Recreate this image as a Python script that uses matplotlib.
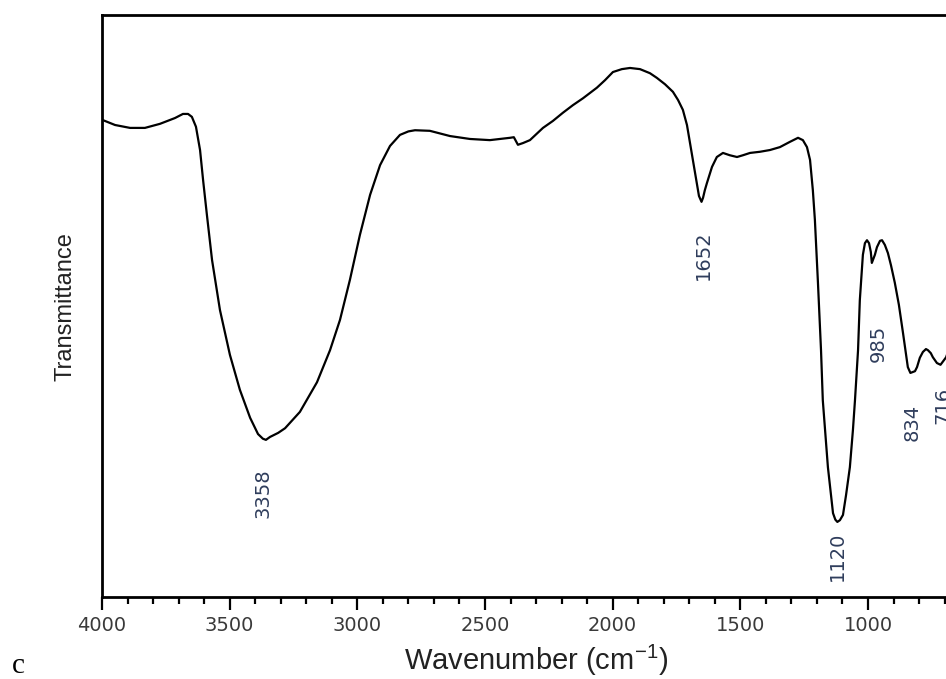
import numpy as np
import matplotlib
matplotlib.use('Agg')
from matplotlib import pyplot as plt
from matplotlib.ticker import MultipleLocator

# FTIR spectrum (wavenumber in cm-1, transmittance in arbitrary units)
wavenumber = [4000, 3949, 3890, 3832, 3773, 3714, 3683, 3663, 3648, 3632, 3616, 3604,
              3589, 3569, 3538, 3499, 3460, 3420, 3389, 3370, 3358, 3342, 3310, 3283, 3225, 3158,
              3107, 3068, 3029, 2990, 2950, 2911, 2872, 2833, 2800, 2774, 2716, 2637, 2559,
              2481, 2402, 2387, 2371, 2351, 2324, 2273, 2234, 2195, 2156, 2116, 2062,
              2030, 1999, 1964, 1932, 1893, 1854, 1827, 1795, 1764, 1744, 1725, 1709,
              1697, 1682, 1670, 1662, 1652, 1646, 1639, 1631, 1611, 1592, 1568, 1541,
              1513, 1490, 1462, 1423, 1384, 1345, 1306, 1274, 1255, 1239, 1227, 1216,
              1208, 1196, 1184, 1177, 1165, 1157, 1145, 1137, 1128, 1120, 1110, 1098, 1086,
              1071, 1059, 1051, 1039, 1032, 1020, 1012, 1004, 996, 989, 985, 973,
              965, 953, 945, 934, 922, 910, 895, 879, 863, 851, 844, 834,
              816, 808, 797, 785, 773, 765, 754, 746, 730, 716, 694, 680]
transmittance = [82.0, 81.1, 80.6, 80.6, 81.3, 82.3, 83.0, 83.0, 82.5, 80.8, 76.8, 71.6,
                 65.6, 57.9, 49.3, 41.6, 35.6, 30.8, 28.0, 27.2, 27.0, 27.5, 28.2, 29.0, 31.8, 36.9,
                 42.4, 47.6, 54.5, 62.2, 69.1, 74.2, 77.5, 79.4, 80.0, 80.2, 80.1, 79.2, 78.7,
                 78.5, 78.9, 79.0, 77.7, 78.0, 78.5, 80.6, 81.8, 83.2, 84.5, 85.7, 87.5,
                 88.8, 90.2, 90.7, 90.9, 90.7, 90.0, 89.2, 88.1, 86.8, 85.4, 83.7, 81.1,
                 78.0, 74.2, 71.1, 68.9, 67.9, 68.6, 69.9, 71.1, 73.9, 75.6, 76.3, 75.9,
                 75.6, 75.9, 76.3, 76.5, 76.8, 77.3, 78.2, 78.9, 78.5, 77.3, 75.1, 69.9,
                 64.8, 54.0, 42.4, 33.8, 27.0, 22.3, 17.5, 14.4, 13.3, 12.9, 13.2, 14.1, 17.5,
                 22.3, 28.7, 33.8, 42.4, 51.0, 58.8, 60.8, 61.3, 60.8, 59.3, 57.4, 58.8,
                 60.1, 61.2, 61.3, 60.5, 59.1, 57.0, 54.0, 50.2, 45.4, 41.6, 39.5, 38.5,
                 38.8, 39.5, 41.1, 42.1, 42.6, 42.4, 41.9, 41.2, 40.2, 39.9, 41.2, 43.0]

# peak labels: text, x position, y position (label centre)
peak_labels = ['3358', '1652', '1120', '985', '834', '716']
peak_x = [3370, 1646, 1118, 961, 828, 707]
peak_y = [17.9, 58.8, 7.0, 43.6, 30.0, 33.0]

W, H = 946, 679
fig = plt.figure(figsize=(W / 100, H / 100), dpi=100)
ax = fig.add_axes([102 / W, 82 / H, (W - 102) / W, 582 / H])

ax.plot(wavenumber, transmittance, color='black', lw=1.6, solid_joinstyle='round')

ax.set_xlim(4000, 694.5)
ax.set_ylim(0, 100)
ax.set_xticks([4000, 3500, 3000, 2500, 2000, 1500, 1000])
ax.xaxis.set_minor_locator(MultipleLocator(100))
ax.set_yticks([])
ax.tick_params(axis='x', which='major', direction='out', length=9, width=1.6,
               labelsize=14, labelcolor='#3a3a3a', pad=5)
ax.tick_params(axis='x', which='minor', direction='out', length=5, width=1.6)
for lab in ax.get_xticklabels():
    lab.set_family('DejaVu Sans')

for s in ['left', 'top', 'bottom']:
    ax.spines[s].set_linewidth(2.0)
ax.spines['right'].set_visible(False)

for t, x, y in zip(peak_labels, peak_x, peak_y):
    ax.text(x, y, t, rotation=90, ha='center', va='center', fontsize=14,
            color='#2f3d5c', family='DejaVu Sans')

plt.rcParams['mathtext.fontset'] = 'custom'
plt.rcParams['mathtext.rm'] = 'Liberation Sans'
fig.text(65 / W, 1 - 307 / H, 'Transmittance', rotation=90, ha='center', va='center',
         fontsize=17, family='Liberation Sans', color='#222222')
fig.text(536 / W, 1 - 660 / H, 'Wavenumber (cm$^{\\mathregular{-1}}$)', ha='center', va='center',
         fontsize=21, family='Liberation Sans', color='#222222')
fig.text(12 / W, 1 - 666 / H, 'c', ha='left', va='center', fontsize=21,
         family='Liberation Serif', color='black')

fig.savefig('out.png', dpi=100)
